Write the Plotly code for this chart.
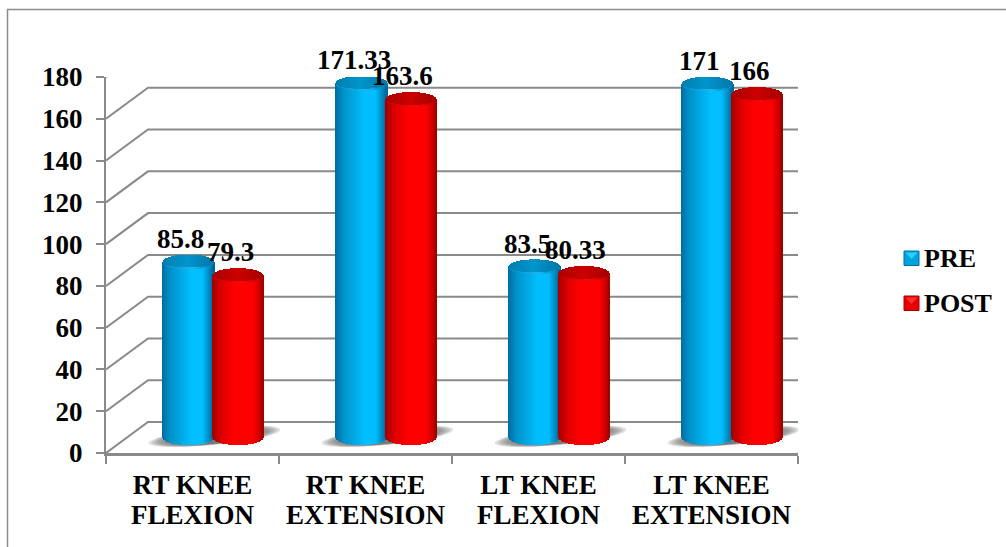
import numpy as np
import plotly.graph_objects as go

# Chart data
CATEGORY_LINE1 = ["RT KNEE", "RT KNEE", "LT KNEE", "LT KNEE"]
CATEGORY_LINE2 = ["FLEXION", "EXTENSION", "FLEXION", "EXTENSION"]
PRE = [85.8, 171.33, 83.5, 171]
POST = [79.3, 163.6, 80.33, 166]
PRE_LABELS = ["85.8", "171.33", "83.5", "171"]
POST_LABELS = ["79.3", "163.6", "80.33", "166"]
Y_TICKS = list(range(0, 181, 20))

# Page and plot-area geometry
W, H = 1006, 547
LEFT, RIGHT, TOP, BOTTOM = 106, 798, 77, 453
PX_X = 4 / (RIGHT - LEFT)
PX_Y = 180 / (BOTTOM - TOP)

# Depth of the pseudo-3D box
DX = 42 * PX_X
DY = 31 * PX_Y

FONT = "Liberation Serif"
TEXT_SIZE = 27
GRID = "#8a8a8a"

BAR_HALF = 25 * PX_X
BAR_OFFSET = 24.8 * PX_X
CAP_B = 7.5 * PX_Y
BASE_Y = 7.4
TOP_SHIFT = 5.6


def ramp(stops, t):
    xs = [s[0] for s in stops]
    return "rgb(%d,%d,%d)" % tuple(np.interp(t, xs, [s[1][i] for s in stops]) for i in range(3))


BLUE_BODY = [(-1, (0, 110, 165)), (-0.7, (0, 145, 200)), (0.15, (0, 190, 255)), (0.6, (0, 190, 255)), (0.88, (0, 135, 190)), (1, (0, 105, 155))]
BLUE_CAP = [(-1, (0, 125, 175)), (0, (0, 150, 205)), (1, (0, 120, 170))]
BLUE_RIM = [(-1, (0, 140, 195)), (0.2, (25, 185, 240)), (1, (0, 130, 180))]
RED_BODY = [(-1, (165, 0, 0)), (-0.6, (225, 0, 0)), (-0.1, (255, 0, 0)), (0.6, (255, 0, 0)), (0.88, (205, 0, 0)), (1, (160, 0, 0))]
RED_CAP = [(-1, (170, 0, 0)), (0, (205, 0, 0)), (1, (165, 0, 0))]
RED_RIM = [(-1, (200, 0, 0)), (0.2, (245, 10, 10)), (1, (190, 0, 0))]

fig = go.Figure()

# Back wall gridlines and floor outline
for v in Y_TICKS:
    fig.add_trace(go.Scatter(
        x=[0, DX, 4 + DX] + ([4] if v == 0 else []),
        y=[v, v + DY, v + DY] + ([0] if v == 0 else []),
        mode="lines", line=dict(color=GRID, width=2),
        hoverinfo="skip", showlegend=False, cliponaxis=False,
    ))

# Soft floor shadows, sheared along the depth direction
angles = np.linspace(0, 2 * np.pi, 61)
for i in range(4):
    cx = i + 0.5 + DX / 2 + 1 * PX_X
    for k in range(10):
        a = (66 - k * 3.0) * PX_X
        b = (8.5 - k * 0.15) * PX_Y
        ox = a * np.cos(angles)
        oy = b * np.sin(angles) + 0.1 * (ox / PX_X) * PX_Y
        fig.add_trace(go.Scatter(
            x=cx + ox, y=BASE_Y + 0.6 + oy,
            mode="lines", line=dict(width=0), fill="toself",
            fillcolor="rgba(105,105,105,0.2)",
            hoverinfo="skip", showlegend=False, cliponaxis=False,
        ))


def cylinders(values, offset, body, cap, rim, name):
    """Draw one series as cylinders built from thin bar strips."""
    t = np.linspace(-1, 1, 51)
    sag = np.sqrt(np.clip(1 - t ** 2, 0, 1))
    strip = 1.6 * PX_X
    xs, base, height, colors = [], [], [], []
    cap_x, cap_b, cap_h, cap_c = [], [], [], []
    rim_x, rim_b, rim_h, rim_c = [], [], [], []
    for i, v in enumerate(values):
        cx = i + 0.5 + DX / 2 + offset
        top = v + TOP_SHIFT
        for tt, s in zip(t, sag):
            x = cx + tt * BAR_HALF
            lo = BASE_Y - CAP_B * s
            hi = top - CAP_B * s
            xs.append(x); base.append(lo); height.append(hi - lo); colors.append(ramp(body, tt))
            rim_x.append(x); rim_b.append(hi); rim_h.append(2 * CAP_B * s + 0.01); rim_c.append(ramp(rim, tt))
            inner = max(CAP_B * s - 2.2 * PX_Y * s, 0)
            cap_x.append(x); cap_b.append(top - inner); cap_h.append(CAP_B * s + inner + 0.01); cap_c.append(ramp(cap, tt))
    for bx, bb, bh, bc, nm in ((xs, base, height, colors, name), (rim_x, rim_b, rim_h, rim_c, name + " rim"), (cap_x, cap_b, cap_h, cap_c, name + " cap")):
        fig.add_trace(go.Bar(
            x=bx, y=bh, base=bb, width=strip, name=nm, xaxis="x2", yaxis="y2",
            marker=dict(color=bc, line=dict(width=0)),
            hoverinfo="skip", showlegend=False, cliponaxis=False,
        ))


cylinders(PRE, -BAR_OFFSET, BLUE_BODY, BLUE_CAP, BLUE_RIM, "PRE")
cylinders(POST, BAR_OFFSET, RED_BODY, RED_CAP, RED_RIM, "POST")

annotations = []

# Value labels above each cylinder
PRE_SHIFT = [-8, -8, -7, -8]
POST_SHIFT = [-8, -9, -9, -8]
for i in range(4):
    for vals, labs, shifts, off in ((PRE, PRE_LABELS, PRE_SHIFT, -BAR_OFFSET), (POST, POST_LABELS, POST_SHIFT, BAR_OFFSET)):
        annotations.append(dict(
            x=i + 0.5 + DX / 2 + off, y=vals[i], xref="x", yref="y",
            text=f"<b>{labs[i]}</b>", showarrow=False, xshift=shifts[i], yshift=35,
            yanchor="middle", xanchor="center",
            font=dict(family=FONT, size=TEXT_SIZE, color="black"),
        ))

# Second line of each category label
for i, txt in enumerate(CATEGORY_LINE2):
    annotations.append(dict(
        x=i + 0.5, xref="x", y=1 - 515 / H, yref="paper",
        text=f"<b>{txt}</b>", showarrow=False, yanchor="middle", xanchor="center",
        font=dict(family=FONT, size=TEXT_SIZE, color="black"),
    ))

# Legend entries
shapes = []
LEGEND = [("PRE", 258, "#00a3dc", "#00709f", "#2bd0ff"), ("POST", 303, "#e80000", "#a80000", "#ff3030")]
for label, yc, fill, edge, light in LEGEND:
    x0, x1 = 904 / W, 919 / W
    y0, y1 = 1 - (yc - 7) / H, 1 - (yc + 7.5) / H
    shapes.append(dict(type="rect", xref="paper", yref="paper", x0=x0, x1=x1, y0=y0, y1=y1,
                       fillcolor=fill, line=dict(color=edge, width=1)))
    shapes.append(dict(type="path", xref="paper", yref="paper",
                       path=f"M {905.5 / W},{1 - (yc - 5.5) / H} L {917.5 / W},{1 - (yc - 5.5) / H} L {911.5 / W},{1 - (yc + 1) / H} Z",
                       fillcolor=light, line=dict(width=0)))
    annotations.append(dict(
        x=921.5 / W, y=1 - yc / H, xref="paper", yref="paper", text=f"<b>{label}</b>",
        showarrow=False, xanchor="left", yanchor="middle",
        font=dict(family=FONT, size=26, color="black"),
    ))

# Outer frame, open at the right and bottom
shapes.append(dict(type="path", xref="paper", yref="paper",
                   path=f"M {7.5 / W},0 L {7.5 / W},{1 - 9.5 / H} L 1,{1 - 9.5 / H}",
                   line=dict(color="#8c8c8c", width=1.5)))

x_domain = [LEFT / W, RIGHT / W]
y_domain = [1 - BOTTOM / H, 1 - TOP / H]

fig.update_layout(
    width=W, height=H, margin=dict(l=0, r=0, t=0, b=0, autoexpand=False),
    paper_bgcolor="white", plot_bgcolor="rgba(0,0,0,0)",
    barmode="overlay", showlegend=False, bargap=0,
    annotations=annotations, shapes=shapes,
    font=dict(family=FONT, size=TEXT_SIZE, color="black"),
    xaxis=dict(
        domain=x_domain, range=[0, 4], showgrid=False, zeroline=False, automargin=False,
        showline=True, linecolor=GRID, linewidth=3,
        tickmode="array", tickvals=[0.5, 1.5, 2.5, 3.5],
        ticktext=[f"<b>{t}</b>" for t in CATEGORY_LINE1],
        ticks="", ticklabelstandoff=6,
        tickfont=dict(family=FONT, size=TEXT_SIZE, color="black"),
        minor=dict(tickmode="array", tickvals=[0, 1, 2, 3, 4], ticks="outside",
                   ticklen=8, tickwidth=2, tickcolor=GRID),
    ),
    yaxis=dict(
        domain=y_domain, range=[0, 180], showgrid=False, zeroline=False, automargin=False,
        showline=True, linecolor=GRID, linewidth=2,
        tickmode="array", tickvals=Y_TICKS, ticktext=[f"<b>{v}</b>" for v in Y_TICKS],
        ticks="outside", ticklen=8, tickwidth=2, tickcolor=GRID,
        ticklabelstandoff=8,
        tickfont=dict(family=FONT, size=TEXT_SIZE, color="black"),
    ),
    # Overlay axes keep the cylinders above the walls and shadows
    xaxis2=dict(domain=x_domain, range=[0, 4], overlaying="x", anchor="y2", visible=False, automargin=False),
    yaxis2=dict(domain=y_domain, range=[0, 180], overlaying="y", anchor="x2", visible=False, automargin=False),
)

fig.write_html("out.html", config={"displayModeBar": False})
